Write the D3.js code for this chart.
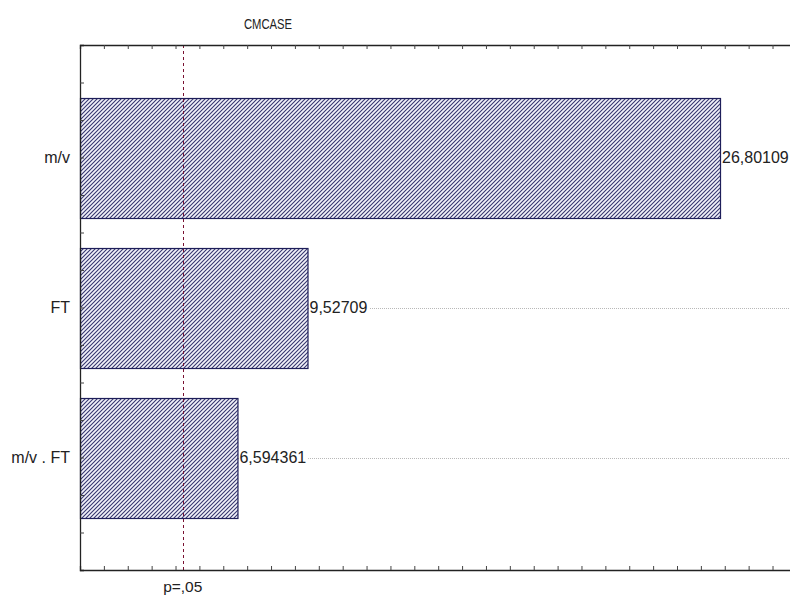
<!DOCTYPE html>
<html>
<head>
<meta charset="utf-8">
<script src="https://cdn.jsdelivr.net/npm/d3@7/dist/d3.min.js"></script>
<style>
  html, body { margin: 0; padding: 0; background: #fff; }
  svg { display: block; }
  text { font-family: "Liberation Sans", Arial, sans-serif; fill: #222; }
</style>
</head>
<body>
<svg id="chart" width="790" height="597"></svg>
<script>
// Standardized effects (absolute t values), one per model term
const effects = ["m/v", "FT", "m/v . FT"];
const effectValues = [26.80109, 9.52709, 6.594361];
const valueLabels = ["26,80109", "9,52709", "6,594361"];
// Critical value of t for p = .05, drawn as a dashed reference line
const criticalT = 4.303;
const criticalLabel = "p=,05";
const responseName = "CMCASE";

const svg = d3.select("#chart");
const W = 790, H = 597;
const plotLeft = 80, plotTop = 45, plotBottom = 570;

const x = d3.scaleLinear().domain([0, 30]).range([plotLeft, plotLeft + 30 * 23.88]);
const y = d3.scaleLinear().domain([0.25, 3.75]).range([plotTop, plotBottom]);
const barHalf = 0.4;

// hatch fill for the bars
const defs = svg.append("defs");
const pat = defs.append("pattern")
  .attr("id", "hatch")
  .attr("patternUnits", "userSpaceOnUse")
  .attr("width", 4).attr("height", 4);
pat.append("rect").attr("width", 4).attr("height", 4).attr("fill", "#f2f2fa");
pat.append("path")
  .attr("d", "M-1,1 l2,-2 M0,4 l4,-4 M3,5 l2,-2")
  .attr("stroke", "#36366e").attr("stroke-width", 1.1);

// response name, set in a condensed face
svg.append("text")
  .attr("transform", "translate(268,29) scale(0.75,1)")
  .attr("text-anchor", "middle")
  .style("font-size", "15px")
  .attr("fill", "#222")
  .text(responseName);

// dotted grid line through each effect
svg.append("g").selectAll("line")
  .data(effects)
  .join("line")
  .attr("x1", plotLeft).attr("x2", W)
  .attr("y1", (d, i) => Math.round(y(i + 1)) + 0.5)
  .attr("y2", (d, i) => Math.round(y(i + 1)) + 0.5)
  .attr("stroke", "#b8b8b8")
  .attr("stroke-width", 1)
  .attr("stroke-dasharray", "1,1");

// bars
svg.append("g").selectAll("rect")
  .data(effectValues)
  .join("rect")
  .attr("x", x(0) + 0.5)
  .attr("y", (d, i) => Math.round(y(i + 1 - barHalf)) + 0.5)
  .attr("width", d => x(d) - x(0))
  .attr("height", (d, i) => Math.round(y(i + 1 + barHalf)) - Math.round(y(i + 1 - barHalf)))
  .attr("fill", "url(#hatch)")
  .attr("stroke", "#1e1e5a")
  .attr("stroke-width", 1.2);

// value labels, with a white backing so the grid line stops at the text
const vl = svg.append("g").selectAll("g")
  .data(effectValues)
  .join("g")
  .attr("transform", (d, i) => `translate(${x(d) + 2},${y(i + 1)})`);
vl.append("rect").attr("class", "bg").attr("fill", "#fff");
vl.append("text")
  .attr("dy", "0.36em")
  .style("font-size", "16px")
  .attr("fill", "#222")
  .text((d, i) => valueLabels[i]);
vl.each(function () {
  const g = d3.select(this);
  const w = g.select("text").node().getComputedTextLength();
  g.select("rect.bg").attr("x", 0).attr("y", -9).attr("width", w + 2).attr("height", 18);
});

// critical value line
svg.append("line")
  .attr("x1", Math.round(x(criticalT)) + 0.5).attr("x2", Math.round(x(criticalT)) + 0.5)
  .attr("y1", plotTop).attr("y2", plotBottom)
  .attr("stroke", "#7a1232")
  .attr("stroke-width", 1)
  .attr("stroke-dasharray", "3,3");

svg.append("text")
  .attr("x", x(criticalT)).attr("y", 592)
  .attr("text-anchor", "middle")
  .style("font-size", "15.5px")
  .attr("fill", "#222")
  .text(criticalLabel);

// axes: frame lines with small inward ticks
const xTicks = d3.range(1, 30);
const yTicks = d3.range(0.5, 3.75, 0.25);

const bottomAxis = d3.axisBottom(x).tickValues(xTicks).tickSize(-4).tickFormat("");
const topAxis = d3.axisTop(x).tickValues(xTicks).tickSize(-4).tickFormat("");
const leftAxis = d3.axisLeft(y).tickValues(yTicks).tickSize(-4).tickFormat("");

function styleAxis(g) {
  g.select(".domain").attr("stroke", "#222").attr("stroke-width", 1.3);
  g.selectAll(".tick line").attr("stroke", "#444");
}

svg.append("g").attr("transform", `translate(0,${plotBottom})`).call(bottomAxis).call(styleAxis);
svg.append("g").attr("transform", `translate(0,${plotTop})`).call(topAxis).call(styleAxis);
svg.append("g").attr("transform", `translate(${plotLeft},0)`).call(leftAxis).call(styleAxis);

// effect names on the left
svg.append("g").selectAll("text")
  .data(effects)
  .join("text")
  .attr("x", 70)
  .attr("y", (d, i) => y(i + 1))
  .attr("dy", "0.36em")
  .attr("text-anchor", "end")
  .style("font-size", "16px")
  .attr("fill", "#222")
  .text(d => d);
</script>
</body>
</html>
